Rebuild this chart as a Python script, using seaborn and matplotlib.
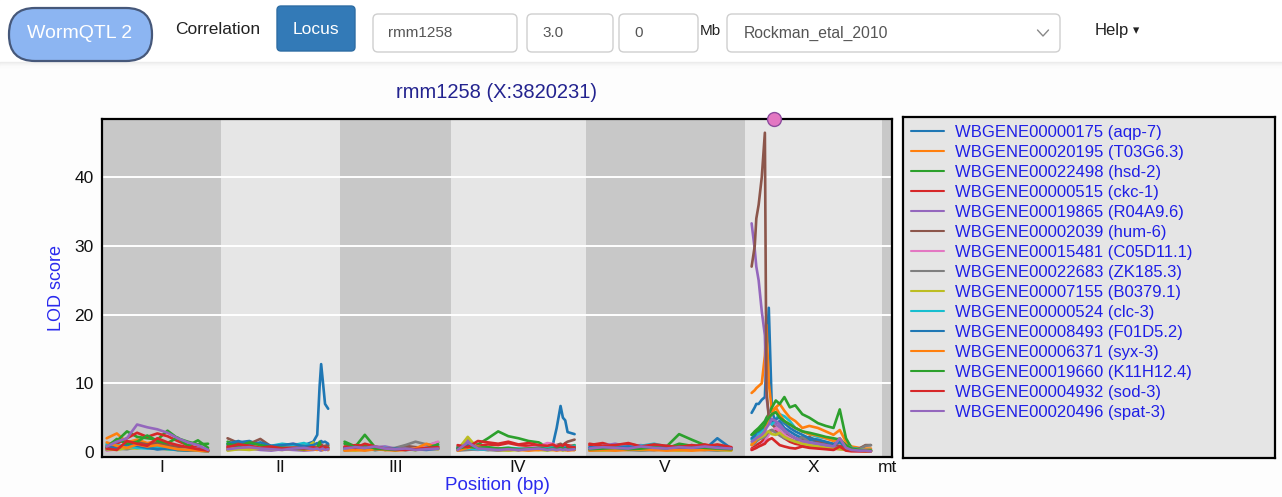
import numpy as np
import pandas as pd
import matplotlib
matplotlib.use("Agg")
import matplotlib.pyplot as plt
import seaborn as sns
from matplotlib.patches import FancyBboxPatch, Rectangle
from matplotlib.lines import Line2D

# ---------------------------------------------------------
# DATA
# ---------------------------------------------------------
genes = ["WBGENE00000175 (aqp-7)", "WBGENE00020195 (T03G6.3)", "WBGENE00022498 (hsd-2)",
         "WBGENE00000515 (ckc-1)", "WBGENE00019865 (R04A9.6)", "WBGENE00002039 (hum-6)",
         "WBGENE00015481 (C05D11.1)", "WBGENE00022683 (ZK185.3)", "WBGENE00007155 (B0379.1)",
         "WBGENE00000524 (clc-3)", "WBGENE00008493 (F01D5.2)", "WBGENE00006371 (syx-3)",
         "WBGENE00019660 (K11H12.4)", "WBGENE00004932 (sod-3)", "WBGENE00020496 (spat-3)"]

chroms = ["I", "II", "III", "IV", "V", "X", "mt"]
# width of each chromosome slot on the axis (Mb)
slot_width = [15.3, 15.2, 14.2, 17.3, 20.4, 17.6, 1.3]

peak_chrom = "X"
peak_pos = 3.82
title = "rmm1258 (X:3820231)"

# marker positions (Mb from chromosome start)
pos_I = [0.6, 1.9, 3.2, 4.5, 5.8, 7.1, 8.4, 9.7, 11.0, 12.3, 13.6]
pos_II = [0.8, 2.2, 3.6, 5.0, 6.4, 7.8, 9.2, 10.6, 11.8, 12.3, 12.6, 12.8, 13.0, 13.3, 13.7]
pos_III = [0.6, 2.0, 3.2, 4.5, 5.8, 7.1, 8.4, 9.7, 11.1, 12.6]
pos_IV = [0.9, 2.2, 3.5, 4.8, 6.1, 7.4, 8.7, 10.0, 11.3, 12.4, 13.1, 13.6, 14.1, 14.4, 14.7, 15.0, 15.9]
pos_V = [0.5, 2.2, 3.8, 5.5, 7.1, 8.8, 10.4, 12.0, 13.6, 15.3, 16.9, 18.7]
pos_X = [0.9, 1.3, 1.5, 1.8, 2.2, 2.6, 2.8, 3.1, 3.5, 4.0, 4.5, 5.1, 5.8, 6.5, 7.4, 8.3,
         9.4, 10.4, 11.4, 12.2, 13.0, 13.7, 14.7, 15.5, 16.2]

# LOD scores, one row per gene (same order as genes)
lod_I = [
    [0.6, 0.8, 0.5, 1.0, 0.7, 0.4, 0.6, 0.3, 0.5, 0.4, 0.2],
    [2.0, 2.7, 1.4, 1.8, 1.3, 1.6, 1.2, 0.8, 0.5, 0.4, 0.3],
    [1.0, 1.6, 3.0, 2.2, 2.0, 1.8, 3.1, 2.0, 1.5, 1.1, 1.2],
    [0.3, 1.2, 2.0, 2.8, 2.2, 2.7, 2.3, 1.6, 1.0, 0.6, 0.3],
    [0.4, 0.6, 0.8, 1.3, 1.0, 1.2, 0.9, 0.6, 0.4, 0.5, 0.2],
    [0.5, 0.7, 1.0, 1.4, 1.1, 1.3, 1.0, 0.7, 0.5, 0.3, 0.2],
    [0.2, 0.4, 0.6, 0.9, 0.7, 0.8, 0.5, 0.4, 0.3, 0.2, 0.1],
    [0.3, 0.5, 0.4, 0.7, 0.6, 0.5, 0.4, 0.3, 0.2, 0.3, 0.1],
    [0.4, 0.3, 0.6, 0.5, 0.8, 0.6, 0.4, 0.3, 0.2, 0.2, 0.1],
    [1.2, 1.0, 0.8, 0.6, 0.5, 0.7, 0.4, 0.3, 0.3, 0.2, 0.1],
    [0.8, 0.5, 1.1, 0.9, 0.6, 0.4, 0.5, 0.3, 0.2, 0.3, 0.1],
    [1.4, 0.9, 0.6, 1.1, 0.8, 1.0, 0.7, 0.4, 0.3, 0.2, 0.1],
    [0.7, 1.9, 1.2, 1.5, 2.4, 1.6, 1.3, 2.1, 0.9, 1.7, 0.6],
    [0.5, 0.3, 1.6, 1.2, 0.9, 2.0, 1.4, 1.0, 0.7, 0.4, 0.2],
    [0.8, 1.5, 2.0, 4.0, 3.6, 3.3, 2.8, 2.0, 1.4, 1.0, 0.3],
]
lod_II = [
    [1.0, 1.4, 1.6, 1.0, 0.8, 1.1, 0.9, 1.0, 1.5, 2.5, 9.5, 12.8, 10.5, 7.0, 6.3],
    [0.5, 0.7, 0.6, 0.4, 0.8, 0.6, 0.5, 0.7, 0.6, 0.5, 0.4, 0.6, 0.5, 0.7, 0.6],
    [1.5, 1.0, 1.2, 0.7, 0.8, 0.5, 0.6, 0.4, 0.8, 0.6, 0.5, 0.7, 0.6, 0.5, 0.8],
    [0.8, 0.6, 1.0, 0.5, 0.7, 0.5, 0.4, 0.6, 0.9, 1.0, 0.8, 1.1, 0.9, 0.8, 1.0],
    [0.3, 0.4, 0.5, 0.3, 0.2, 0.4, 0.3, 0.2, 0.3, 0.4, 0.3, 0.2, 0.3, 0.4, 0.3],
    [2.0, 1.3, 1.2, 1.9, 0.8, 0.6, 0.7, 0.5, 0.6, 0.8, 0.7, 0.6, 0.8, 0.9, 1.0],
    [0.4, 0.6, 0.5, 0.8, 0.6, 0.9, 1.2, 1.0, 0.7, 0.5, 0.6, 0.4, 0.5, 0.6, 0.5],
    [0.3, 0.5, 0.4, 0.6, 0.5, 0.7, 0.8, 1.1, 0.6, 0.4, 0.5, 0.3, 0.4, 0.5, 0.4],
    [0.2, 0.4, 0.3, 0.5, 0.4, 0.3, 0.5, 0.4, 1.4, 0.6, 0.5, 0.4, 0.3, 0.4, 0.3],
    [0.6, 0.8, 0.7, 1.0, 0.9, 1.2, 1.0, 1.3, 0.8, 0.6, 0.7, 0.5, 0.6, 0.7, 0.6],
    [1.2, 1.6, 1.0, 1.4, 0.9, 1.0, 1.2, 0.8, 1.0, 1.3, 1.2, 1.6, 1.4, 1.5, 1.2],
    [0.5, 0.8, 0.6, 0.9, 0.5, 0.4, 0.6, 0.3, 0.4, 0.3, 0.5, 0.4, 0.3, 0.4, 0.3],
    [1.2, 0.8, 1.4, 1.0, 0.7, 0.6, 0.5, 0.4, 0.6, 0.5, 1.5, 0.7, 0.6, 0.5, 0.6],
    [0.7, 1.1, 0.9, 0.6, 0.8, 0.5, 0.6, 0.5, 0.7, 0.6, 0.5, 0.8, 0.6, 0.7, 0.6],
    [0.4, 0.6, 0.7, 0.5, 0.4, 0.3, 0.5, 0.6, 0.4, 0.5, 0.3, 0.4, 0.5, 0.3, 0.4],
]
lod_III = [
    [0.5, 0.4, 0.6, 0.3, 0.4, 0.3, 0.5, 0.4, 0.6, 0.5],
    [0.3, 0.5, 0.4, 0.6, 0.3, 0.4, 0.5, 0.3, 0.8, 0.6],
    [1.5, 0.8, 2.5, 0.7, 0.6, 0.4, 0.5, 0.6, 0.9, 1.4],
    [0.7, 1.0, 0.9, 0.6, 0.5, 0.3, 0.4, 0.5, 0.7, 0.8],
    [0.4, 0.6, 0.5, 0.7, 0.8, 0.5, 0.4, 0.6, 0.5, 0.4],
    [0.3, 0.5, 0.4, 0.6, 0.3, 0.5, 0.9, 0.7, 0.6, 0.5],
    [0.5, 0.3, 0.6, 0.4, 0.5, 0.4, 0.3, 0.5, 0.9, 1.5],
    [0.2, 0.4, 0.3, 0.5, 0.4, 0.6, 1.0, 1.5, 1.1, 0.8],
    [0.3, 0.2, 0.4, 0.3, 0.5, 0.3, 0.4, 0.3, 0.5, 0.4],
    [0.4, 0.5, 0.3, 0.4, 0.6, 0.4, 0.3, 0.4, 0.6, 1.0],
    [0.6, 0.4, 0.5, 0.3, 0.4, 0.5, 0.3, 0.4, 0.3, 0.5],
    [0.2, 0.3, 0.2, 0.4, 0.3, 0.2, 0.3, 0.5, 1.2, 0.6],
    [1.2, 0.7, 1.0, 0.5, 0.4, 0.3, 0.4, 0.3, 0.5, 1.1],
    [0.8, 0.6, 1.2, 0.8, 0.5, 0.4, 0.3, 0.4, 0.6, 0.7],
    [0.5, 0.7, 0.6, 0.8, 0.5, 0.4, 0.5, 0.3, 0.4, 0.5],
]
lod_IV = [
    [0.5, 0.7, 0.4, 0.6, 0.5, 0.4, 0.3, 0.5, 0.6, 0.8, 1.0, 3.5, 6.7, 5.0, 4.6, 2.9, 2.6],
    [0.3, 0.5, 0.4, 0.3, 0.5, 0.4, 0.3, 0.4, 0.3, 0.5, 0.4, 0.3, 0.5, 0.4, 0.3, 0.4, 0.5],
    [0.8, 1.0, 1.1, 2.0, 3.0, 2.3, 2.0, 1.6, 1.4, 0.7, 0.9, 0.7, 0.9, 0.6, 0.8, 0.7, 1.0],
    [0.6, 1.2, 0.9, 1.1, 1.0, 1.3, 1.0, 0.9, 0.8, 0.7, 0.8, 1.0, 0.7, 0.8, 0.9, 1.0, 0.8],
    [0.5, 1.8, 0.6, 0.5, 0.4, 0.3, 0.4, 0.3, 0.4, 0.5, 0.4, 0.3, 0.5, 0.4, 0.3, 0.4, 0.3],
    [0.4, 0.6, 0.5, 0.4, 0.3, 0.4, 0.3, 0.5, 0.4, 0.6, 0.8, 1.0, 1.2, 1.0, 1.3, 1.5, 1.8],
    [0.3, 0.4, 0.3, 0.5, 0.4, 0.3, 0.4, 0.6, 0.8, 1.3, 1.2, 0.9, 0.7, 0.6, 0.5, 0.6, 0.5],
    [0.2, 0.3, 0.4, 0.3, 0.2, 0.3, 0.4, 0.3, 0.5, 0.4, 0.6, 0.5, 0.4, 0.3, 0.5, 0.4, 0.6],
    [0.3, 2.2, 0.5, 0.4, 0.3, 0.2, 0.3, 0.4, 0.3, 0.2, 0.3, 0.4, 0.3, 0.2, 0.3, 0.4, 0.3],
    [0.4, 0.5, 0.4, 0.3, 0.5, 0.6, 0.5, 0.4, 0.6, 0.8, 0.6, 0.5, 0.7, 0.9, 0.8, 0.7, 0.9],
    [0.6, 1.0, 0.8, 0.5, 0.4, 0.5, 0.3, 0.4, 0.5, 0.3, 0.4, 0.6, 0.5, 0.4, 0.6, 0.5, 0.4],
    [0.2, 0.6, 0.8, 0.4, 0.3, 0.4, 0.3, 0.2, 0.3, 0.4, 0.3, 0.2, 0.3, 0.4, 0.3, 0.2, 0.3],
    [0.5, 0.8, 0.6, 0.7, 0.5, 0.6, 0.4, 0.5, 0.6, 0.4, 0.5, 0.4, 0.6, 0.5, 0.4, 0.6, 0.5],
    [1.0, 0.7, 1.6, 1.4, 1.2, 1.5, 1.1, 1.3, 1.0, 0.9, 1.1, 0.8, 1.0, 0.9, 1.2, 0.8, 0.7],
    [0.3, 1.4, 0.5, 0.4, 0.3, 0.4, 0.3, 0.4, 0.5, 0.3, 0.4, 0.3, 0.4, 0.3, 0.4, 0.3, 0.4],
]
lod_V = [
    [0.4, 0.6, 0.5, 0.4, 0.6, 0.5, 0.4, 0.5, 0.6, 0.4, 2.0, 0.5],
    [0.3, 0.4, 0.5, 0.6, 0.4, 0.3, 0.5, 0.4, 0.3, 0.5, 0.4, 0.3],
    [0.5, 0.6, 0.4, 0.7, 0.5, 0.6, 0.8, 2.6, 1.8, 1.0, 0.6, 0.5],
    [1.0, 1.3, 0.8, 1.1, 0.9, 1.0, 0.7, 0.9, 0.8, 1.1, 0.7, 0.6],
    [0.6, 0.9, 1.2, 0.8, 1.0, 0.7, 0.9, 0.6, 0.8, 0.7, 0.9, 0.5],
    [0.3, 0.4, 0.3, 0.5, 0.4, 0.3, 0.4, 0.5, 0.4, 0.3, 0.5, 0.4],
    [0.4, 0.3, 0.5, 0.4, 0.6, 0.5, 0.4, 0.6, 0.5, 0.4, 0.6, 0.7],
    [0.2, 0.3, 0.4, 0.3, 0.2, 0.3, 0.4, 0.3, 0.4, 0.3, 0.2, 0.3],
    [0.3, 0.2, 0.3, 0.4, 0.3, 0.4, 0.3, 0.2, 0.3, 0.4, 0.3, 0.2],
    [0.5, 0.6, 0.8, 0.7, 0.9, 1.2, 0.8, 0.6, 1.0, 0.7, 0.6, 0.5],
    [0.7, 0.5, 0.6, 0.8, 0.5, 0.6, 0.7, 0.5, 0.6, 0.5, 0.7, 0.6],
    [0.2, 0.3, 0.2, 0.3, 0.4, 0.3, 0.2, 0.3, 0.2, 0.3, 0.4, 0.3],
    [0.4, 0.5, 0.6, 0.4, 0.5, 0.7, 0.5, 1.2, 0.9, 0.6, 0.5, 0.4],
    [1.2, 0.9, 1.0, 1.3, 0.8, 1.1, 0.9, 0.7, 1.0, 0.8, 1.1, 0.7],
    [0.5, 0.7, 0.6, 0.5, 0.8, 0.6, 0.5, 0.7, 0.6, 0.8, 0.6, 0.5],
]
lod_X = [
    [5.7, 6.5, 7.0, 7.0, 7.6, 8.0, 14.0, 21.0, 6.0, 4.2, 4.5, 3.5, 3.0, 2.5, 2.0, 1.8, 1.5, 1.2, 1.0, 0.8, 0.6, 0.5, 0.3, 0.3, 0.3],
    [8.6, 9.0, 9.3, 9.6, 10.0, 14.0, 18.5, 10.0, 6.0, 6.5, 7.0, 6.0, 5.0, 4.5, 3.5, 3.8, 3.5, 3.0, 2.5, 3.2, 1.5, 0.8, 0.6, 0.5, 0.5],
    [2.5, 3.0, 3.2, 3.5, 4.0, 4.5, 5.0, 5.5, 6.5, 7.5, 7.0, 8.0, 6.5, 6.8, 5.5, 5.0, 4.2, 3.8, 3.5, 6.2, 2.0, 0.6, 0.3, 0.2, 0.2],
    [0.5, 0.8, 1.0, 1.2, 1.5, 2.0, 2.5, 3.0, 3.2, 3.0, 2.5, 2.0, 1.5, 1.2, 1.0, 0.8, 0.6, 0.5, 0.4, 0.6, 0.3, 0.2, 0.2, 0.1, 0.1],
    [33.3, 29.5, 27.0, 25.0, 20.5, 17.0, 8.0, 5.5, 4.5, 4.0, 3.6, 3.0, 2.5, 2.0, 1.5, 1.2, 1.0, 0.8, 0.5, 0.6, 0.4, 0.3, 0.2, 0.2, 0.2],
    [27.0, 30.0, 34.0, 36.0, 40.0, 46.5, 9.0, 5.0, 4.0, 3.5, 3.0, 2.5, 2.4, 2.0, 1.7, 2.2, 1.5, 1.2, 1.0, 0.9, 0.7, 0.4, 0.5, 1.0, 1.0],
    [0.3, 0.5, 0.6, 0.8, 1.0, 1.5, 2.0, 2.5, 3.0, 3.5, 3.0, 2.5, 2.0, 1.6, 1.2, 1.0, 0.8, 0.6, 0.5, 0.4, 0.3, 0.2, 0.1, 0.1, 0.1],
    [1.0, 1.2, 1.5, 1.8, 2.0, 2.2, 2.5, 3.0, 3.2, 2.8, 2.4, 2.0, 1.8, 1.5, 2.2, 1.4, 1.2, 1.0, 0.8, 0.6, 0.4, 0.3, 0.4, 0.9, 1.0],
    [1.2, 1.5, 1.8, 2.0, 2.2, 2.5, 2.8, 3.0, 2.6, 2.5, 2.8, 2.2, 1.8, 1.5, 1.2, 1.0, 0.8, 0.6, 0.5, 0.4, 0.3, 0.2, 0.2, 0.1, 0.1],
    [1.8, 2.0, 2.4, 2.6, 3.0, 3.5, 4.0, 4.5, 4.0, 4.8, 5.5, 5.2, 4.5, 3.5, 3.0, 2.6, 2.2, 2.0, 1.8, 1.5, 1.0, 0.6, 0.4, 0.3, 0.3],
    [2.0, 2.4, 2.8, 3.0, 3.4, 3.8, 4.5, 5.0, 4.5, 4.8, 5.0, 4.2, 3.5, 3.0, 2.5, 2.0, 1.8, 1.5, 1.2, 1.4, 0.8, 0.5, 0.3, 0.2, 0.2],
    [1.0, 1.5, 2.0, 2.2, 2.5, 3.0, 4.0, 5.0, 5.5, 6.5, 5.5, 4.5, 4.0, 3.5, 3.0, 2.6, 2.4, 2.0, 1.6, 2.0, 1.0, 0.5, 0.3, 0.3, 0.2],
    [2.5, 2.8, 3.0, 3.2, 3.5, 4.0, 4.5, 5.0, 5.5, 5.8, 5.0, 4.5, 4.0, 3.5, 3.0, 2.8, 2.5, 2.2, 2.0, 1.8, 1.0, 0.5, 0.3, 0.2, 0.2],
    [0.3, 0.5, 0.6, 0.8, 1.0, 1.2, 1.5, 1.8, 2.0, 1.5, 1.0, 0.8, 0.6, 0.5, 0.8, 0.6, 0.5, 0.4, 0.3, 0.8, 0.2, 0.1, 0.1, 0.1, 0.1],
    [1.5, 1.8, 2.0, 2.2, 2.5, 3.0, 3.5, 4.0, 4.8, 4.5, 4.0, 3.2, 2.5, 2.0, 1.6, 1.4, 1.2, 1.0, 0.8, 2.0, 0.6, 0.3, 0.2, 0.2, 0.1],
]

# ---------------------------------------------------------
# LONG TABLE
# ---------------------------------------------------------
offsets = np.concatenate([[0], np.cumsum(slot_width)])
chrom_offset = dict(zip(chroms, offsets[:-1]))

rows = []
for chrom, pos, lod in [("I", pos_I, lod_I), ("II", pos_II, lod_II), ("III", pos_III, lod_III),
                        ("IV", pos_IV, lod_IV), ("V", pos_V, lod_V), ("X", pos_X, lod_X)]:
    for gi, gene in enumerate(genes):
        for p, v in zip(pos, lod[gi]):
            rows.append({"gene": gene, "chrom": chrom, "pos": chrom_offset[chrom] + p, "lod": v})
df = pd.DataFrame(rows)

tab10 = sns.color_palette("tab10")
palette = {g: tab10[i % 10] for i, g in enumerate(genes)}

# ---------------------------------------------------------
# FIGURE
# ---------------------------------------------------------
sns.set_theme(style="white")
plt.rcParams["font.family"] = ["Liberation Sans", "DejaVu Sans"]

W, H = 1282, 497
fig = plt.figure(figsize=(W / 100, H / 100), dpi=100)
fig.patch.set_facecolor("#fdfdfd")
inch = fig.dpi_scale_trans


def P(x, y):
    return x / 100, (H - y) / 100


# header bar with a soft shadow
fig.add_artist(Rectangle(P(0, 62), W / 100, 0.62, transform=inch, color="white", zorder=0))
for i, c in enumerate(["#ececec", "#f1f1f1", "#f5f5f5", "#f8f8f8", "#fbfbfb"]):
    fig.add_artist(Rectangle(P(0, 63 + i), W / 100, 0.01, transform=inch, color=c, zorder=0))


def box(x0, y0, x1, y1, r, fc, ec, lw=1.0):
    fig.add_artist(FancyBboxPatch(P(x0, y1), (x1 - x0) / 100, (y1 - y0) / 100,
                                  boxstyle=f"round,pad=0,rounding_size={r}",
                                  transform=inch, fc=fc, ec=ec, lw=lw))


box(9, 8, 152, 61, 0.26, "#8cb5f2", "#46587a", 1.6)
fig.text(*P(80, 33), "WormQTL 2", transform=inch, color="white", fontsize=14,
         ha="center", va="center")
fig.text(*P(175, 29), "Correlation", transform=inch, color="#222222", fontsize=12.5,
         ha="left", va="center")
box(277, 6, 355, 51, 0.04, "#337ab7", "#2e6da4")
fig.text(*P(316, 29), "Locus", transform=inch, color="white", fontsize=12.5,
         ha="center", va="center")

inputs = [(373, 517, "rmm1258"), (527, 613, "3.0"), (619, 698, "0")]
for x0, x1, txt in inputs:
    box(x0, 14, x1, 52, 0.05, "white", "#cfcfcf")
    fig.text(*P(x0 + 15, 33), txt, transform=inch, color="#555555", fontsize=11,
             ha="left", va="center")
fig.text(*P(700, 31), "Mb", transform=inch, color="#222222", fontsize=11, ha="left", va="center")
box(727, 14, 1060, 52, 0.05, "white", "#cfcfcf")
fig.text(*P(744, 33), "Rockman_etal_2010", transform=inch, color="#555555", fontsize=11.3,
         ha="left", va="center")
cx, cy = P(1043, 33)
fig.add_artist(Line2D([cx - 0.055, cx, cx + 0.055], [cy + 0.03, cy - 0.03, cy + 0.03],
                      transform=inch, color="#888888", lw=1.0))
fig.text(*P(1095, 30), "Help", transform=inch, color="#222222", fontsize=12,
         ha="left", va="center")
fig.text(*P(1133, 31), "\u25be", transform=inch, color="#222222", fontsize=9,
         ha="left", va="center", family=["DejaVu Sans"])

# ---------------------------------------------------------
# LOD PLOT
# ---------------------------------------------------------
ax = fig.add_axes([102 / W, 1 - 457 / H, 790 / W, 338 / H])
ymin, ymax = -0.73, 48.5

for i, c in enumerate(chroms):
    ax.axvspan(offsets[i], offsets[i + 1], color="#c8c8c8" if i % 2 == 0 else "#e6e6e6",
               lw=0, zorder=0)
yticks = [0, 10, 20, 30, 40]
for t in yticks[1:]:
    ax.axhline(t, color="white", lw=1.4, zorder=0.5)

sns.lineplot(data=df, x="pos", y="lod", hue="gene", hue_order=genes, units="chrom",
             estimator=None, sort=False, palette=palette, lw=1.9, legend=False, ax=ax, zorder=2)

ax.scatter([chrom_offset[peak_chrom] + peak_pos], [ymax], s=100, color="#e377c2",
           edgecolor="#8d4c9e", lw=1.0, clip_on=False, zorder=10)

ax.set_xlim(offsets[0], offsets[-1])
ax.set_ylim(ymin, ymax)
ax.set_xticks((offsets[:-1] + offsets[1:]) / 2)
ax.set_xticklabels(chroms)
ax.set_yticks(yticks)
ax.tick_params(axis="both", length=0, labelsize=12.5, labelcolor="#111111")
ax.tick_params(axis="y", pad=6)
ax.tick_params(axis="x", pad=2)
for s in ax.spines.values():
    s.set_color("black")
    s.set_linewidth(1.6)
    s.set_visible(True)

ax.set_title(title, color="#23238f", fontsize=14.5, pad=15)
ax.set_xlabel("Position (bp)", color="#2a2aee", fontsize=13.5)
ax.set_ylabel("LOD score", color="#2a2aee", fontsize=13)
ax.xaxis.set_label_coords(0.5, -0.058)
ax.yaxis.set_label_coords(-0.047, 0.5)

# ---------------------------------------------------------
# LEGEND PANEL
# ---------------------------------------------------------
lax = fig.add_axes([903 / W, 1 - 458 / H, 372 / W, 341 / H])
lax.set_facecolor("#e5e5e5")
lax.set_xticks([])
lax.set_yticks([])
for s in lax.spines.values():
    s.set_color("black")
    s.set_linewidth(1.6)
    s.set_visible(True)
handles = [Line2D([0], [0], color=palette[g], lw=1.5) for g in genes]
lax.legend(handles, genes, loc="upper left", frameon=False, fontsize=12, labelcolor="#1f1fe6",
           handlelength=2.0, handletextpad=0.65, labelspacing=0.3, borderaxespad=0.1,
           borderpad=0.35)

fig.savefig("out.png", dpi=100, facecolor=fig.get_facecolor())
